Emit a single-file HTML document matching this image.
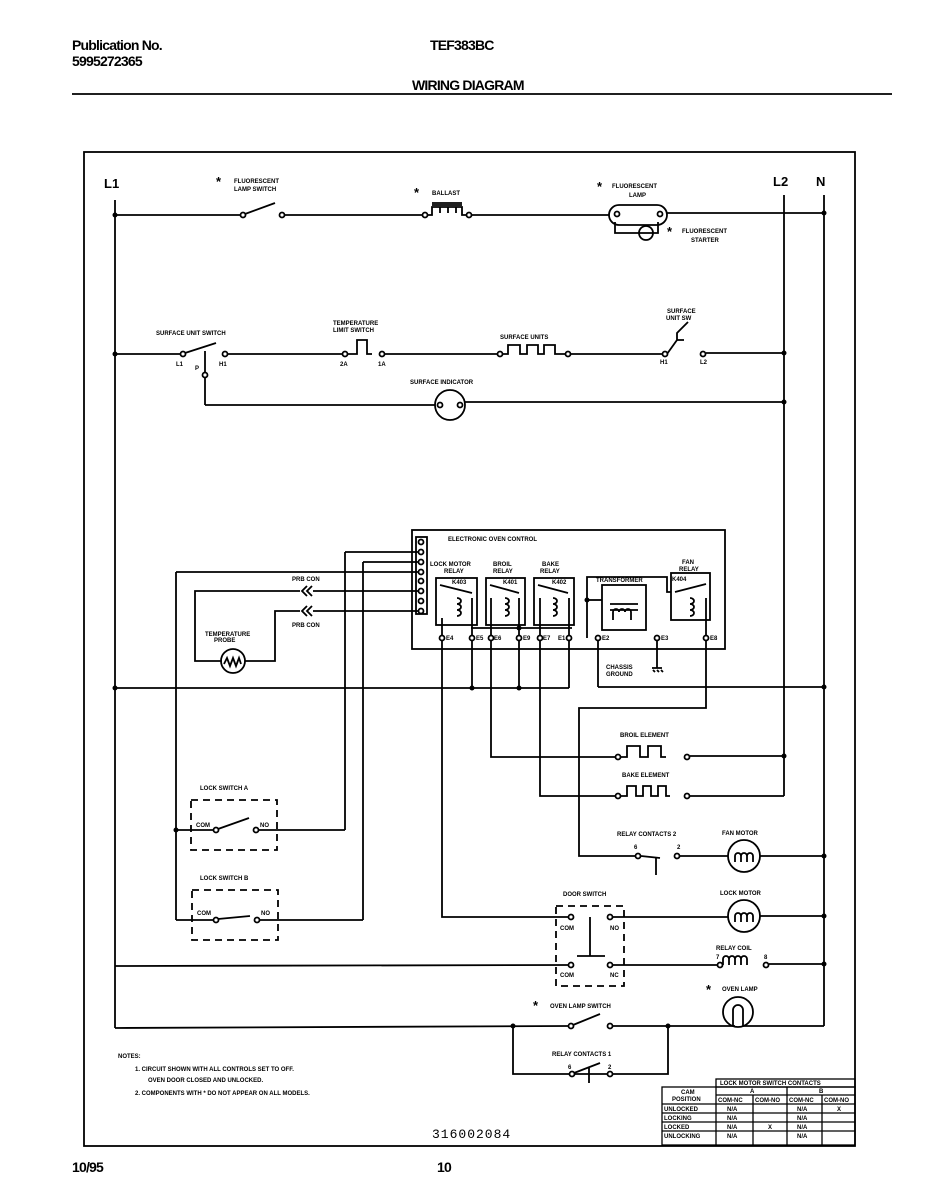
<!DOCTYPE html>
<html><head><meta charset="utf-8"><style>
html,body{margin:0;padding:0;background:#fff;}
svg{display:block;}
.h{font-family:"Liberation Sans",sans-serif;font-size:14px;font-weight:bold;fill:#000;letter-spacing:-0.8px}
.t{font-family:"Liberation Sans",sans-serif;font-size:6px;font-weight:bold;fill:#000}
.b{font-family:"Liberation Sans",sans-serif;font-size:13px;font-weight:bold;fill:#000}
</style></head><body>
<svg width="940" height="1200" viewBox="0 0 940 1200" xmlns="http://www.w3.org/2000/svg">
<text class="h" x="72" y="50">Publication No.</text>
<text class="h" x="72" y="66">5995272365</text>
<text class="h" x="430" y="50">TEF383BC</text>
<text class="h" x="412" y="90">WIRING DIAGRAM</text>
<line x1="72" y1="94" x2="892" y2="94" stroke="#000" stroke-width="1.8"/>
<text class="h" x="72" y="1172">10/95</text>
<text class="h" x="437" y="1172">10</text>

<g stroke="#000" stroke-width="1.8" fill="none">
<rect x="84" y="152" width="771" height="994"/>
<line x1="115" y1="200" x2="115" y2="1028"/>
<line x1="784" y1="195" x2="784" y2="796"/>
<line x1="824" y1="195" x2="824" y2="1026"/>

<line x1="115" y1="215" x2="240" y2="215"/>
<circle cx="243" cy="215" r="2.5"/><line x1="245" y1="214" x2="275" y2="203"/>
<circle cx="282" cy="215" r="2.5"/>
<line x1="285" y1="215" x2="422" y2="215"/>
<circle cx="425" cy="215" r="2.5"/>
<path d="M428 215 L432 215 L432 207 L440 207 L440 213 M440 207 L448 207 L448 213 M448 207 L456 207 L456 213 M456 207 L462 207 L462 215 L466 215"/>
<line x1="432" y1="203" x2="462" y2="203"/><line x1="432" y1="205" x2="462" y2="205"/>
<circle cx="469" cy="215" r="2.5"/>
<line x1="472" y1="215" x2="609" y2="215"/>
<rect x="609" y="205" width="58" height="20" rx="10"/>
<circle cx="617" cy="214" r="2.5"/><circle cx="660" cy="214" r="2.5"/>
<path d="M615 222 L615 233 L658 233 L658 222"/>
<circle cx="646" cy="233" r="7"/>
<line x1="667" y1="213" x2="824" y2="213"/>

<line x1="115" y1="354" x2="180" y2="354"/>
<circle cx="183" cy="354" r="2.5"/><line x1="185" y1="353" x2="216" y2="343"/>
<circle cx="225" cy="354" r="2.5"/>
<line x1="205" y1="351" x2="205" y2="372"/><circle cx="205" cy="375" r="2.5"/>
<line x1="205" y1="378" x2="205" y2="405"/>
<line x1="228" y1="354" x2="342" y2="354"/>
<circle cx="345" cy="354" r="2.5"/>
<path d="M348 354 L357 354 L357 340 L367 340 L367 354 L372 354"/>
<circle cx="382" cy="354" r="2.5"/>
<line x1="385" y1="354" x2="498" y2="354"/>
<circle cx="500" cy="354" r="2.5"/>
<path d="M503 354 L508 354 L508 345 L520 345 L520 354 L527 354 L527 345 L538 345 L538 354 L544 354 L544 345 L555 345 L555 354 L565 354"/>
<circle cx="568" cy="354" r="2.5"/>
<line x1="571" y1="354" x2="662" y2="354"/>
<circle cx="665" cy="354" r="2.5"/>
<path d="M667 354 L677 340 L684 340 M677 340 L677 333 L688 322"/>
<circle cx="703" cy="354" r="2.5"/>
<line x1="706" y1="353" x2="784" y2="353"/>
<line x1="205" y1="405" x2="435" y2="405"/>
<circle cx="450" cy="405" r="15"/>
<circle cx="440" cy="405" r="2.5"/><circle cx="460" cy="405" r="2.5"/>
<line x1="465" y1="402" x2="784" y2="402"/>

<rect x="412" y="530" width="313" height="119"/>
<rect x="416" y="537" width="11" height="77"/>
<circle cx="421" cy="542" r="2.5"/><circle cx="421" cy="552" r="2.5"/><circle cx="421" cy="562" r="2.5"/><circle cx="421" cy="572" r="2.5"/><circle cx="421" cy="581" r="2.5"/><circle cx="421" cy="591" r="2.5"/><circle cx="421" cy="601" r="2.5"/><circle cx="421" cy="611" r="2.5"/>
<rect x="436" y="578" width="41" height="47"/>
<rect x="486" y="578" width="39" height="47"/>
<rect x="534" y="578" width="40" height="47"/>
<rect x="602" y="585" width="44" height="45"/>
<rect x="671" y="573" width="39" height="47"/>
<line x1="440" y1="585" x2="472" y2="593"/><line x1="490" y1="585" x2="519" y2="593"/><line x1="538" y1="585" x2="568" y2="593"/><line x1="675" y1="592" x2="706" y2="584"/>
<path d="M457 598 a4 3 0 1 1 0 6 a4 3 0 1 1 0 6 a4 3 0 1 1 0 6"/>
<path d="M505 598 a4 3 0 1 1 0 6 a4 3 0 1 1 0 6 a4 3 0 1 1 0 6"/>
<path d="M553 598 a4 3 0 1 1 0 6 a4 3 0 1 1 0 6 a4 3 0 1 1 0 6"/>
<path d="M690 598 a4 3 0 1 1 0 6 a4 3 0 1 1 0 6 a4 3 0 1 1 0 6"/>
<path d="M610 610 l28 0 M610 604 l28 0 M613 620 l0 -8 a3 3 0 0 1 6 0 a3 3 0 0 1 6 0 a3 3 0 0 1 6 0 l0 8"/>
<path d="M587 638 L587 577 L667 577 L667 592 L671 592"/>
<line x1="587" y1="600" x2="602" y2="600"/>
<circle cx="442" cy="638" r="2.5"/><circle cx="472" cy="638" r="2.5"/><circle cx="491" cy="638" r="2.5"/><circle cx="519" cy="638" r="2.5"/><circle cx="540" cy="638" r="2.5"/><circle cx="569" cy="638" r="2.5"/><circle cx="598" cy="638" r="2.5"/><circle cx="657" cy="638" r="2.5"/><circle cx="706" cy="638" r="2.5"/>
<line x1="442" y1="618" x2="442" y2="635"/><line x1="472" y1="598" x2="472" y2="635"/><line x1="491" y1="598" x2="491" y2="635"/><line x1="519" y1="598" x2="519" y2="635"/><line x1="540" y1="598" x2="540" y2="635"/><line x1="569" y1="598" x2="569" y2="635"/><line x1="706" y1="598" x2="706" y2="635"/>
<line x1="519" y1="625" x2="519" y2="628"/><line x1="471" y1="628" x2="572" y2="628"/>
<line x1="345" y1="552" x2="418" y2="552"/>
<line x1="363" y1="562" x2="418" y2="562"/>
<line x1="176" y1="572" x2="418" y2="572"/>
<line x1="313" y1="591" x2="418" y2="591"/>
<line x1="313" y1="611" x2="418" y2="611"/>
<path d="M312 586 l-5 5 l5 5 M307 586 l-5 5 l5 5 M312 606 l-5 5 l5 5 M307 606 l-5 5 l5 5"/>
<path d="M300 591 L195 591 L195 661 L222 661"/>
<path d="M300 611 L275 611 L275 661 L245 661"/>
<circle cx="233" cy="661" r="12"/>
<path d="M224 664 l3 -6 l3 8 l3 -8 l3 8 l3 -8 l2 6"/>
<line x1="176" y1="572" x2="176" y2="920"/>
<line x1="345" y1="552" x2="345" y2="830"/>
<line x1="363" y1="562" x2="363" y2="920"/>
<line x1="176" y1="830" x2="214" y2="830"/><circle cx="216" cy="830" r="2.5"/>
<line x1="218" y1="829" x2="249" y2="818"/><circle cx="256" cy="830" r="2.5"/>
<line x1="259" y1="830" x2="345" y2="830"/>
<line x1="176" y1="920" x2="214" y2="920"/><circle cx="216" cy="920" r="2.5"/>
<line x1="218" y1="919" x2="250" y2="916"/><circle cx="257" cy="920" r="2.5"/>
<line x1="260" y1="920" x2="363" y2="920"/>
<rect x="191" y="800" width="86" height="50" stroke-dasharray="7,5"/>
<rect x="192" y="890" width="86" height="50" stroke-dasharray="7,5"/>

<line x1="115" y1="688" x2="569" y2="688"/>
<line x1="569" y1="641" x2="569" y2="688"/>
<line x1="598" y1="641" x2="598" y2="687"/>
<line x1="598" y1="687" x2="824" y2="687"/>
<line x1="472" y1="641" x2="472" y2="688"/>
<line x1="519" y1="641" x2="519" y2="688"/>
<line x1="657" y1="641" x2="657" y2="668"/>
<path d="M652 668 l10 0 M653 670 l2 2 M657 670 l2 2 M661 670 l2 2"/>
<path d="M491 641 L491 757 L615 757"/>
<circle cx="618" cy="757" r="2.5"/>
<path d="M621 757 L627 757 L627 746 L640 746 L640 757 L648 757 L648 746 L661 746 L661 757 L666 757"/>
<circle cx="687" cy="757" r="2.5"/>
<line x1="690" y1="756" x2="784" y2="756"/>
<path d="M540 641 L540 796 L615 796"/>
<circle cx="618" cy="796" r="2.5"/>
<path d="M621 796 L627 796 L627 786 L636 786 L636 796 L643 796 L643 786 L651 786 L651 796 L658 796 L658 786 L666 786 L666 796 L670 796"/>
<circle cx="687" cy="796" r="2.5"/>
<line x1="690" y1="796" x2="784" y2="796"/>
<path d="M706 641 L706 708 L579 708 L579 856 L635 856"/>
<circle cx="638" cy="856" r="2.5"/><circle cx="677" cy="856" r="2.5"/>
<line x1="641" y1="856" x2="660" y2="858"/><line x1="656" y1="857" x2="656" y2="875"/>
<line x1="680" y1="856" x2="728" y2="856"/>
<circle cx="744" cy="856" r="16"/>
<path d="M735 862 l0 -6 a3 3 0 0 1 6 0 l0 6 m0 -6 a3 3 0 0 1 6 0 l0 6 m0 -6 a3 3 0 0 1 6 0 l0 6"/>
<line x1="760" y1="856" x2="824" y2="856"/>
<path d="M442 641 L442 917 L568 917"/>
<circle cx="571" cy="917" r="2.5"/><circle cx="610" cy="917" r="2.5"/>
<line x1="590" y1="917" x2="590" y2="956"/><line x1="577" y1="956" x2="605" y2="956"/>
<line x1="613" y1="917" x2="728" y2="917"/>
<circle cx="744" cy="916" r="16"/>
<path d="M735 922 l0 -6 a3 3 0 0 1 6 0 l0 6 m0 -6 a3 3 0 0 1 6 0 l0 6 m0 -6 a3 3 0 0 1 6 0 l0 6"/>
<line x1="760" y1="916" x2="824" y2="916"/>
<rect x="556" y="906" width="68" height="80" stroke-dasharray="7,5"/>
<line x1="115" y1="966" x2="568" y2="965"/>
<circle cx="571" cy="965" r="2.5"/><circle cx="610" cy="965" r="2.5"/>
<line x1="613" y1="965" x2="717" y2="965"/>
<circle cx="720" cy="965" r="2.5"/>
<path d="M723 965 l0 -6 a3 3 0 0 1 6 0 l0 6 m0 -6 a3 3 0 0 1 6 0 l0 6 m0 -6 a3 3 0 0 1 6 0 l0 6 m0 -6 a3 3 0 0 1 6 0 l0 6"/>
<circle cx="766" cy="965" r="2.5"/>
<line x1="769" y1="964" x2="824" y2="964"/>
<line x1="115" y1="1028" x2="568" y2="1026"/>
<circle cx="571" cy="1026" r="2.5"/><line x1="573" y1="1025" x2="600" y2="1014"/>
<circle cx="610" cy="1026" r="2.5"/>
<line x1="613" y1="1026" x2="735" y2="1026"/>
<circle cx="738" cy="1012" r="15"/>
<path d="M733 1026 L733 1010 a5 5 0 0 1 10 0 L743 1026"/>
<line x1="743" y1="1026" x2="824" y2="1026"/>
<path d="M513 1026 L513 1074 L569 1074 M575 1074 L607 1074 M613 1074 L668 1074 L668 1026"/>
<circle cx="572" cy="1074" r="2.5"/><circle cx="610" cy="1074" r="2.5"/>
<line x1="574" y1="1073" x2="600" y2="1063"/><line x1="589" y1="1068" x2="589" y2="1083"/>
<g stroke-width="1.3">
<rect x="716" y="1079" width="139" height="8"/>
<rect x="662" y="1087" width="193" height="58"/>
<line x1="716" y1="1087" x2="716" y2="1145"/>
<line x1="753" y1="1095" x2="753" y2="1145"/>
<line x1="787" y1="1087" x2="787" y2="1145"/>
<line x1="822" y1="1095" x2="822" y2="1145"/>
<line x1="716" y1="1095" x2="855" y2="1095"/>
<line x1="662" y1="1104" x2="855" y2="1104"/>
<line x1="662" y1="1113" x2="855" y2="1113"/>
<line x1="662" y1="1122" x2="855" y2="1122"/>
<line x1="662" y1="1131" x2="855" y2="1131"/>
</g>
</g>
<g fill="#000">
<circle cx="115" cy="215" r="2.5"/><circle cx="115" cy="354" r="2.5"/><circle cx="115" cy="688" r="2.5"/>
<circle cx="784" cy="353" r="2.5"/><circle cx="784" cy="402" r="2.5"/><circle cx="784" cy="756" r="2.5"/>
<circle cx="824" cy="213" r="2.5"/><circle cx="824" cy="687" r="2.5"/><circle cx="824" cy="856" r="2.5"/><circle cx="824" cy="916" r="2.5"/><circle cx="824" cy="964" r="2.5"/>
<circle cx="472" cy="688" r="2.5"/><circle cx="519" cy="688" r="2.5"/><circle cx="519" cy="628" r="2.5"/><circle cx="587" cy="600" r="2.5"/>
<circle cx="176" cy="830" r="2.5"/><circle cx="513" cy="1026" r="2.5"/><circle cx="668" cy="1026" r="2.5"/>
</g>
<text class="b" x="104" y="188">L1</text>
<text class="b" x="773" y="186">L2</text>
<text class="b" x="816" y="186">N</text>
<text class="b" x="216" y="186">*</text><text class="t" x="234" y="183">FLUORESCENT</text><text class="t" x="234" y="191">LAMP SWITCH</text>
<text class="b" x="414" y="197">*</text><text class="t" x="432" y="195">BALLAST</text>
<text class="b" x="597" y="191">*</text><text class="t" x="612" y="188">FLUORESCENT</text><text class="t" x="629" y="197">LAMP</text>
<text class="b" x="667" y="236">*</text><text class="t" x="682" y="233">FLUORESCENT</text><text class="t" x="691" y="242">STARTER</text>
<text class="t" x="156" y="335">SURFACE UNIT SWITCH</text>
<text class="t" x="176" y="366">L1</text><text class="t" x="195" y="370">P</text><text class="t" x="219" y="366">H1</text>
<text class="t" x="333" y="325">TEMPERATURE</text><text class="t" x="333" y="332">LIMIT SWITCH</text>
<text class="t" x="340" y="366">2A</text><text class="t" x="378" y="366">1A</text>
<text class="t" x="500" y="339">SURFACE UNITS</text>
<text class="t" x="667" y="313">SURFACE</text><text class="t" x="666" y="320">UNIT SW</text>
<text class="t" x="660" y="364">H1</text><text class="t" x="700" y="364">L2</text>
<text class="t" x="410" y="384">SURFACE INDICATOR</text>
<text class="t" x="448" y="541">ELECTRONIC OVEN CONTROL</text>
<text class="t" x="430" y="566">LOCK MOTOR</text><text class="t" x="444" y="573">RELAY</text>
<text class="t" x="493" y="566">BROIL</text><text class="t" x="493" y="573">RELAY</text>
<text class="t" x="542" y="566">BAKE</text><text class="t" x="540" y="573">RELAY</text>
<text class="t" x="596" y="582">TRANSFORMER</text>
<text class="t" x="682" y="564">FAN</text><text class="t" x="679" y="571">RELAY</text>
<text class="t" x="452" y="584">K403</text><text class="t" x="503" y="584">K401</text><text class="t" x="552" y="584">K402</text><text class="t" x="672" y="581">K404</text>
<text class="t" x="446" y="640">E4</text><text class="t" x="476" y="640">E5</text><text class="t" x="494" y="640">E6</text><text class="t" x="523" y="640">E9</text><text class="t" x="543" y="640">E7</text><text class="t" x="558" y="640">E1</text><text class="t" x="602" y="640">E2</text><text class="t" x="661" y="640">E3</text><text class="t" x="710" y="640">E8</text>
<text class="t" x="606" y="669">CHASSIS</text><text class="t" x="606" y="676">GROUND</text>
<text class="t" x="292" y="581">PRB CON</text><text class="t" x="292" y="627">PRB CON</text>
<text class="t" x="205" y="636">TEMPERATURE</text><text class="t" x="214" y="642">PROBE</text>
<text class="t" x="200" y="790">LOCK SWITCH A</text>
<text class="t" x="196" y="827">COM</text><text class="t" x="260" y="827">NO</text>
<text class="t" x="200" y="880">LOCK SWITCH B</text>
<text class="t" x="197" y="915">COM</text><text class="t" x="261" y="915">NO</text>
<text class="t" x="620" y="737">BROIL ELEMENT</text>
<text class="t" x="622" y="777">BAKE ELEMENT</text>
<text class="t" x="617" y="836">RELAY CONTACTS 2</text><text class="t" x="722" y="835">FAN MOTOR</text>
<text class="t" x="634" y="849">6</text><text class="t" x="677" y="849">2</text>
<text class="t" x="563" y="896">DOOR SWITCH</text><text class="t" x="720" y="895">LOCK MOTOR</text>
<text class="t" x="560" y="930">COM</text><text class="t" x="610" y="930">NO</text>
<text class="t" x="560" y="977">COM</text><text class="t" x="610" y="977">NC</text>
<text class="t" x="716" y="950">RELAY COIL</text><text class="t" x="716" y="959">7</text><text class="t" x="764" y="959">8</text>
<text class="b" x="533" y="1010">*</text><text class="t" x="550" y="1008">OVEN LAMP SWITCH</text>
<text class="b" x="706" y="994">*</text><text class="t" x="722" y="991">OVEN LAMP</text>
<text class="t" x="552" y="1056">RELAY CONTACTS 1</text><text class="t" x="568" y="1069">6</text><text class="t" x="608" y="1069">2</text>
<text class="t" x="118" y="1058">NOTES:</text>
<text class="t" x="135" y="1071">1. CIRCUIT SHOWN WITH ALL CONTROLS SET TO OFF.</text>
<text class="t" x="148" y="1082">OVEN DOOR CLOSED AND UNLOCKED.</text>
<text class="t" x="135" y="1095">2. COMPONENTS WITH * DO NOT APPEAR ON ALL MODELS.</text>
<text x="432" y="1138" style="font-family:'Liberation Mono',monospace;font-size:13px;letter-spacing:1px">316002084</text>
<text class="t" x="720" y="1085">LOCK MOTOR SWITCH CONTACTS</text>
<text class="t" x="750" y="1093">A</text><text class="t" x="819" y="1093">B</text>
<text class="t" x="681" y="1094">CAM</text><text class="t" x="672" y="1101">POSITION</text>
<text class="t" x="718" y="1102">COM-NC</text><text class="t" x="755" y="1102">COM-NO</text><text class="t" x="789" y="1102">COM-NC</text><text class="t" x="824" y="1102">COM-NO</text>
<text class="t" x="664" y="1111">UNLOCKED</text><text class="t" x="664" y="1120">LOCKING</text><text class="t" x="664" y="1129">LOCKED</text><text class="t" x="664" y="1138">UNLOCKING</text>
<text class="t" x="727" y="1111">N/A</text><text class="t" x="727" y="1120">N/A</text><text class="t" x="727" y="1129">N/A</text><text class="t" x="727" y="1138">N/A</text>
<text class="t" x="797" y="1111">N/A</text><text class="t" x="797" y="1120">N/A</text><text class="t" x="797" y="1129">N/A</text><text class="t" x="797" y="1138">N/A</text>
<text class="t" x="837" y="1111">X</text><text class="t" x="768" y="1129">X</text>
</svg>
</body></html>
